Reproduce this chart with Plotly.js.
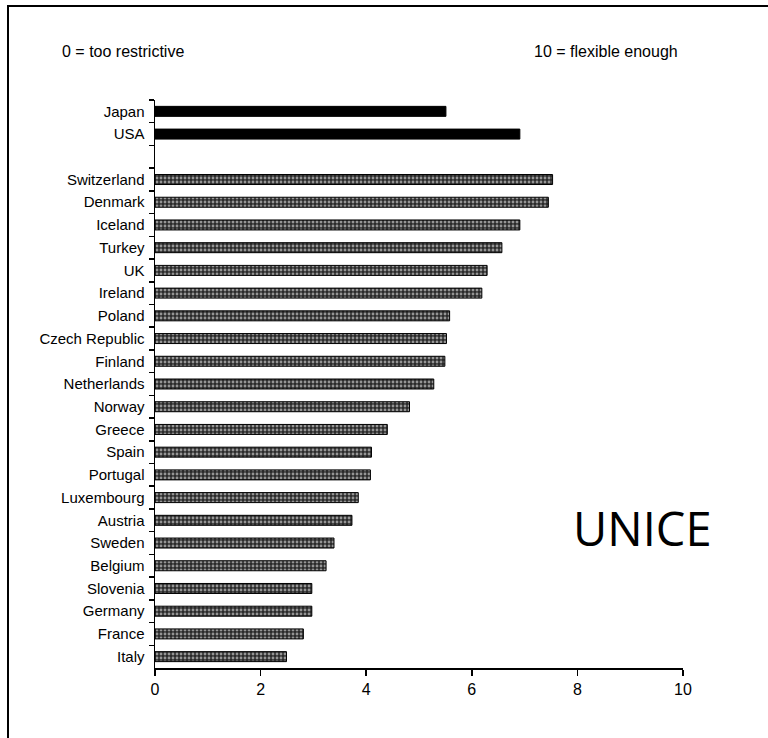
<!DOCTYPE html>
<html>
<head>
<meta charset="utf-8">
<script src="https://cdn.plot.ly/plotly-3.0.1.min.js"></script>
<style>
  html, body { margin: 0; padding: 0; background: #fff; }
  #frame { position: absolute; left: 7px; top: 5px; width: 761px; height: 733px;
           border-left: 2px solid #000; border-top: 2px solid #000; box-sizing: border-box; pointer-events: none; }
  #chart { position: absolute; left: 0; top: 0; width: 768px; height: 738px; }
</style>
</head>
<body>
<div id="chart"></div>
<div id="frame"></div>
<script>
// Data
var topCountries = ['Japan', 'USA'];
var topValues = [5.51, 6.91];
var gapLabel = ' ';
var countries = ['Switzerland', 'Denmark', 'Iceland', 'Turkey', 'UK', 'Ireland', 'Poland',
  'Czech Republic', 'Finland', 'Netherlands', 'Norway', 'Greece', 'Spain', 'Portugal',
  'Luxembourg', 'Austria', 'Sweden', 'Belgium', 'Slovenia', 'Germany', 'France', 'Italy'];
var values = [7.53, 7.45, 6.91, 6.57, 6.29, 6.19, 5.58, 5.52, 5.49, 5.28, 4.82, 4.40,
  4.10, 4.08, 3.85, 3.73, 3.39, 3.24, 2.97, 2.97, 2.81, 2.49];
var xTicks = [0, 2, 4, 6, 8, 10];
var leftNote = '0 = too restrictive';
var rightNote = '10 = flexible enough';
var brand = 'UNICE';

var allCats = topCountries.concat([gapLabel]).concat(countries);
var allVals = topValues.concat([null]).concat(values);
var colors = allCats.map(function (c) { return topCountries.indexOf(c) >= 0 ? '#000000' : '#2a2a2a'; });
var shapes = allCats.map(function (c) { return topCountries.indexOf(c) >= 0 ? '' : '.'; });

var trace = {
  type: 'bar',
  orientation: 'h',
  y: allCats,
  x: allVals,
  marker: {
    color: colors,
    line: { color: '#000', width: 1 },
    pattern: { shape: shapes, fgcolor: '#bdbdbd', size: 4, solidity: 0.4, fillmode: 'overlay' }
  },
  hoverinfo: 'none'
};

var font = 'Liberation Sans, Arial, sans-serif';
var layout = {
  width: 768, height: 738,
  margin: { l: 155, r: 85, t: 100, b: 70 },
  paper_bgcolor: '#fff', plot_bgcolor: '#fff',
  showlegend: false,
  bargap: 0.56,
  font: { family: font, color: '#000', size: 15 },
  xaxis: {
    range: [0, 10], tickvals: xTicks, ticktext: xTicks.map(String),
    showgrid: false, zeroline: false, showline: true, linecolor: '#000', linewidth: 1.5,
    ticks: 'outside', ticklen: 6, tickcolor: '#000', tickwidth: 1.5,
    tickfont: { family: font, size: 16, color: '#000' }, fixedrange: true
  },
  yaxis: {
    type: 'category', categoryorder: 'array', categoryarray: allCats,
    autorange: 'reversed',
    showgrid: false, zeroline: false, showline: true, linecolor: '#000', linewidth: 1.5,
    ticks: 'outside', ticklen: 5, tickcolor: '#000', tickwidth: 1.5, tickson: 'boundaries',
    ticklabelstandoff: 6,
    tickfont: { family: font, size: 15, color: '#000' }, fixedrange: true
  },
  annotations: [
    { text: leftNote, xref: 'paper', yref: 'paper', x: (60 - 155) / 528, y: (668 - 52) / 568,
      xanchor: 'left', yanchor: 'middle', showarrow: false, font: { family: font, size: 16, color: '#000' } },
    { text: rightNote, xref: 'paper', yref: 'paper', x: (680 - 155) / 528, y: (668 - 52) / 568,
      xanchor: 'right', yanchor: 'middle', showarrow: false, font: { family: font, size: 16, color: '#000' } },
    { text: brand, xref: 'paper', yref: 'paper', x: (642 - 155) / 528, y: (668 - 528) / 568,
      xanchor: 'center', yanchor: 'middle', showarrow: false,
      font: { family: 'Open Sans, sans-serif', size: 47, color: '#000' } }
  ]
};

Plotly.newPlot('chart', [trace], layout, { displayModeBar: false, staticPlot: true });
</script>
</body>
</html>
